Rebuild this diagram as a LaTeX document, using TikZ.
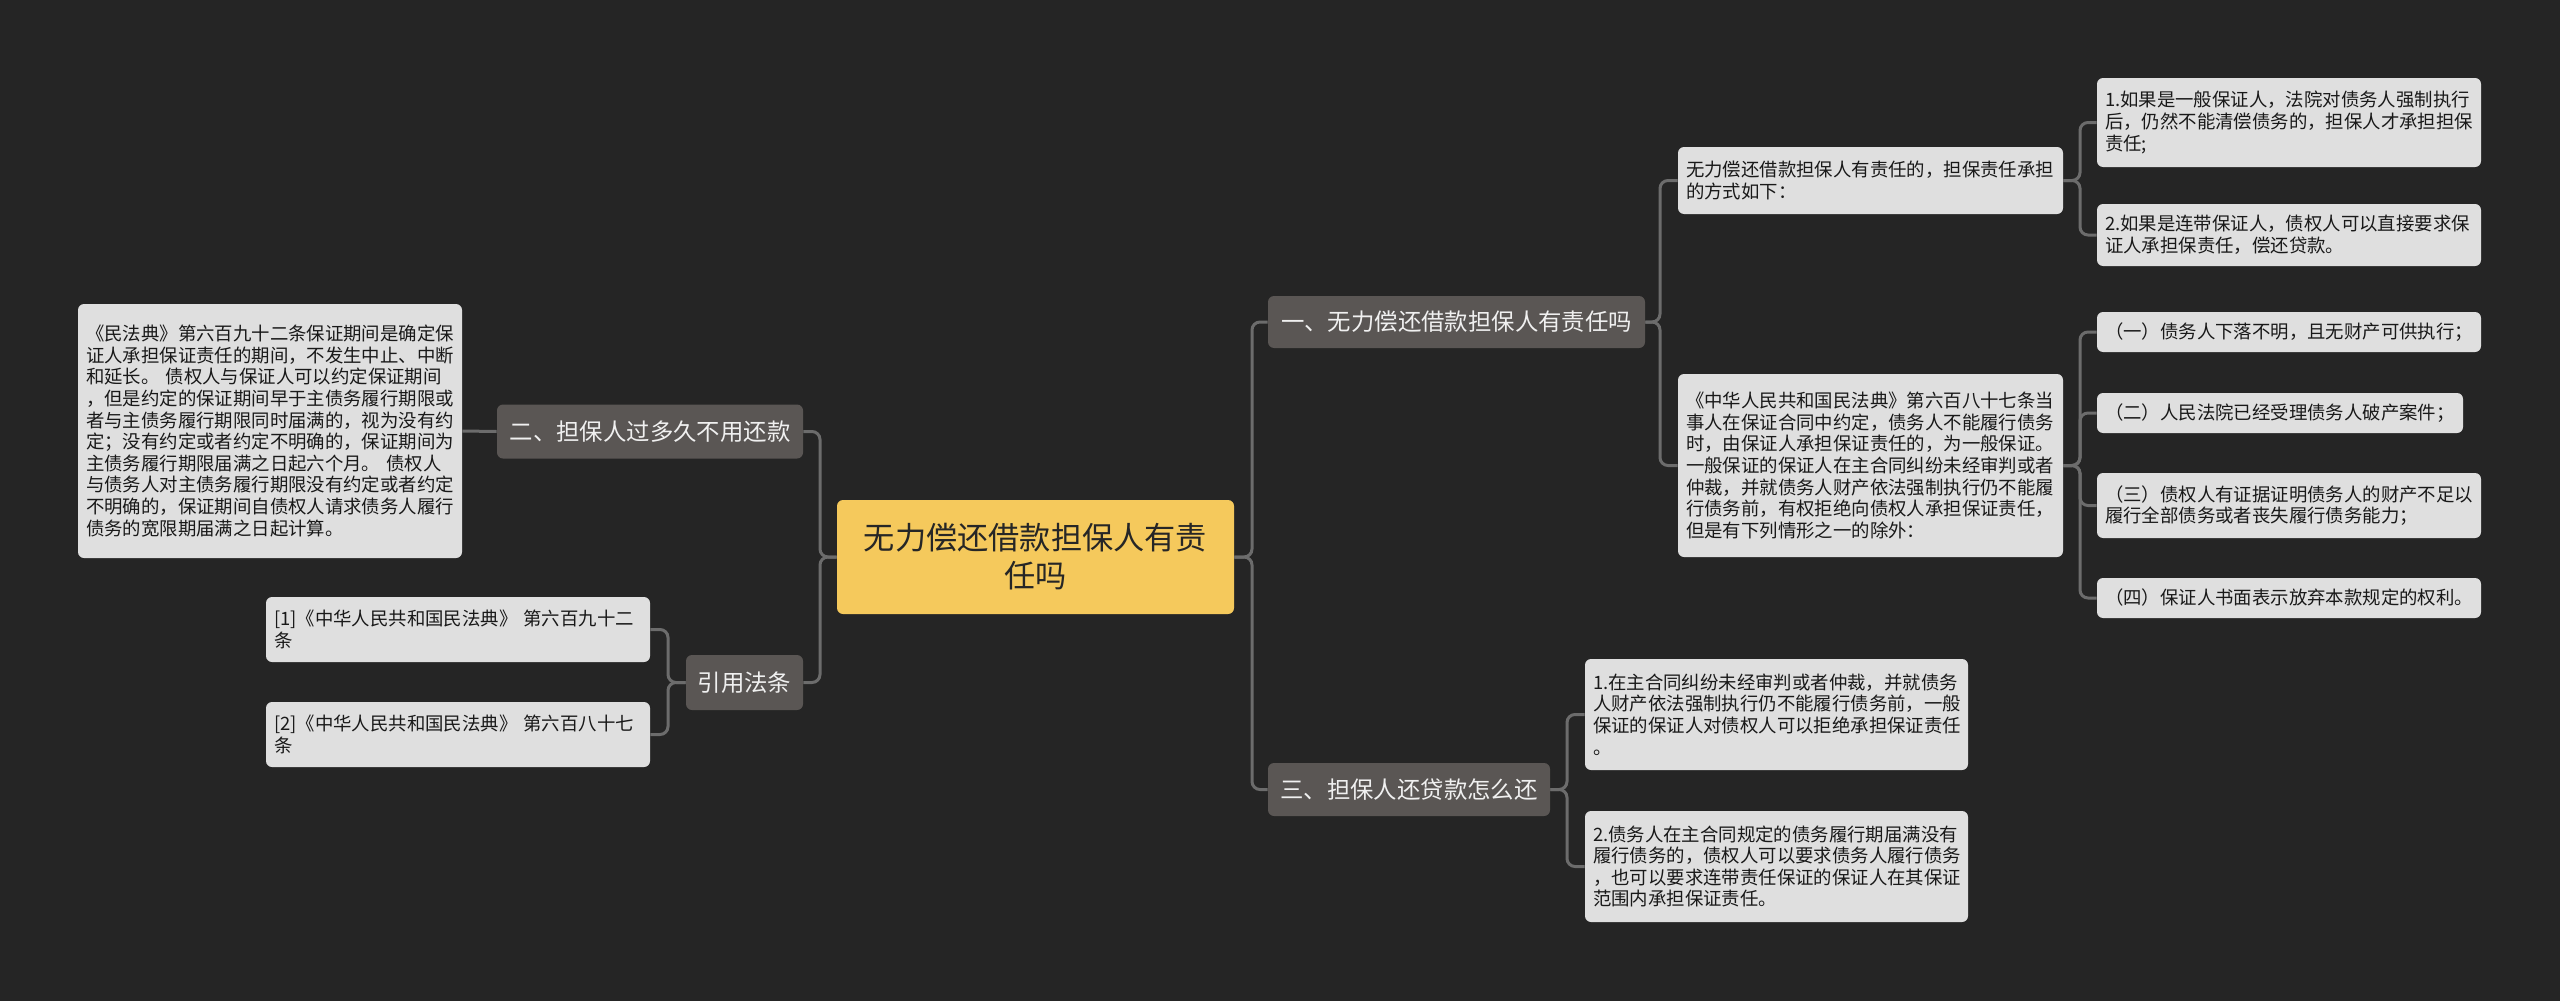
\documentclass[tikz,border=0pt]{standalone}
\usepackage{fontspec}
\setmainfont{Noto Sans CJK SC}
\definecolor{bgdark}{HTML}{252525}
\definecolor{rootyellow}{HTML}{F5C95C}
\definecolor{branchgray}{HTML}{5A5654}
\definecolor{leafgray}{HTML}{DFDFDF}
\definecolor{linegray}{HTML}{6C6C6C}
\begin{document}
\begin{tikzpicture}[x=0.5pt, y=-0.5pt,
    box/.style={rounded corners=3pt, inner sep=0pt},
    rootbox/.style={box, fill=rootyellow, text=black!85, font=\fontsize{15.6}{19}\selectfont, align=center},
    branch/.style={box, fill=branchgray, text=white!94!black, font=\fontsize{11.7}{14}\selectfont},
    leaf/.style={box, fill=leafgray, text=black!90, font=\fontsize{9.2}{10.8}\selectfont, align=left, inner xsep=4pt},
    conn/.style={draw=linegray, line width=1.5pt, rounded corners=4pt}]
    \fill[bgdark] (0,0) rectangle (2560,1001);
    % centre and branches
    \node[rootbox, minimum width=198.5pt, minimum height=57pt, text width=190pt] (root) at (1035.5,557) {无力偿还借款担保人有责\\任吗};
    \node[branch, minimum width=188.5pt, minimum height=26pt] (b1) at (1456.5,322) {一、无力偿还借款担保人有责任吗};
    \node[branch, minimum width=153pt, minimum height=27pt] (b2) at (650,431.5) {二、担保人过多久不用还款};
    \node[branch, minimum width=141pt, minimum height=26.5pt] (b3) at (1409,789.5) {三、担保人还贷款怎么还};
    \node[branch, minimum width=58.5pt, minimum height=27.5pt] (b4) at (744.5,682.5) {引用法条};
    % left side
    \node[leaf, text width=184pt, minimum height=127pt] (l2) at (270,431) {《民法典》第六百九十二条保证期间是确定保\\证人承担保证责任的期间，不发生中止、中断\\和延长。~债权人与保证人可以约定保证期间\\，但是约定的保证期间早于主债务履行期限或\\者与主债务履行期限同时届满的，视为没有约\\定；没有约定或者约定不明确的，保证期间为\\主债务履行期限届满之日起六个月。~债权人\\与债务人对主债务履行期限没有约定或者约定\\不明确的，保证期间自债权人请求债务人履行\\债务的宽限期届满之日起计算。};
    \node[leaf, text width=184pt, minimum height=32.5pt] (r1) at (458,629.5) {[1]《中华人民共和国民法典》~第六百九十二\\条};
    \node[leaf, text width=184pt, minimum height=32.5pt] (r2) at (458,734.5) {[2]《中华人民共和国民法典》~第六百八十七\\条};
    % right side
    \node[leaf, text width=184.5pt, minimum height=33.5pt] (t1) at (1870.5,180.5) {无力偿还借款担保人有责任的，担保责任承担\\的方式如下：};
    \node[leaf, text width=184pt, minimum height=44.5pt] (t1a) at (2289,122.5) {1.如果是一般保证人，法院对债务人强制执行\\后，仍然不能清偿债务的，担保人才承担担保\\责任;};
    \node[leaf, text width=184pt, minimum height=31pt] (t1b) at (2289,235) {2.如果是连带保证人，债权人可以直接要求保\\证人承担保责任，偿还贷款。};
    \node[leaf, text width=184.5pt, minimum height=91.5pt] (t2) at (1870.5,465.5) {《中华人民共和国民法典》第六百八十七条当\\事人在保证合同中约定，债务人不能履行债务\\时，由保证人承担保证责任的，为一般保证。\\一般保证的保证人在主合同纠纷未经审判或者\\仲裁，并就债务人财产依法强制执行仍不能履\\行债务前，有权拒绝向债权人承担保证责任，\\但是有下列情形之一的除外：};
    \node[leaf, text width=184pt, minimum height=20pt] (t2a) at (2289,332) {（一）债务人下落不明，且无财产可供执行；};
    \node[leaf, text width=175pt, minimum height=20pt] (t2b) at (2280,413) {（二）人民法院已经受理债务人破产案件；};
    \node[leaf, text width=184pt, minimum height=32.5pt] (t2c) at (2289,505.5) {（三）债权人有证据证明债务人的财产不足以\\履行全部债务或者丧失履行债务能力；};
    \node[leaf, text width=184pt, minimum height=20pt] (t2d) at (2289,598) {（四）保证人书面表示放弃本款规定的权利。};
    \node[leaf, text width=183.5pt, minimum height=55.5pt] (t3a) at (1776.5,714.5) {1.在主合同纠纷未经审判或者仲裁，并就债务\\人财产依法强制执行仍不能履行债务前，一般\\保证的保证人对债权人可以拒绝承担保证责任\\。};
    \node[leaf, text width=183.5pt, minimum height=55.5pt] (t3b) at (1776.5,866.5) {2.债务人在主合同规定的债务履行期届满没有\\履行债务的，债权人可以要求债务人履行债务\\，也可以要求连带责任保证的保证人在其保证\\范围内承担保证责任。};
    % connectors
    \coordinate (rootR) at (1252,557);
    \coordinate (rootL) at (820,557);
    \coordinate (b1R) at (1660,322);
    \coordinate (b3R) at (1567,789.5);
    \coordinate (b4L) at (668,682.5);
    \coordinate (t1R) at (2080,180.5);
    \coordinate (t2R) at (2080,465.5);
    \foreach \c in {b1,b3} \draw[conn] (root.east) -- (rootR) |- (\c.west);
    \foreach \c in {b2,b4} \draw[conn] (root.west) -- (rootL) |- (\c.east);
    \draw[conn] (b2.west) -- (l2.east);
    \foreach \c in {r1,r2} \draw[conn] (b4.west) -- (b4L) |- (\c.east);
    \foreach \c in {t1,t2} \draw[conn] (b1.east) -- (b1R) |- (\c.west);
    \foreach \c in {t1a,t1b} \draw[conn] (t1.east) -- (t1R) |- (\c.west);
    \foreach \c in {t2a,t2b,t2c,t2d} \draw[conn] (t2.east) -- (t2R) |- (\c.west);
    \foreach \c in {t3a,t3b} \draw[conn] (b3.east) -- (b3R) |- (\c.west);
\end{tikzpicture}
\end{document}
